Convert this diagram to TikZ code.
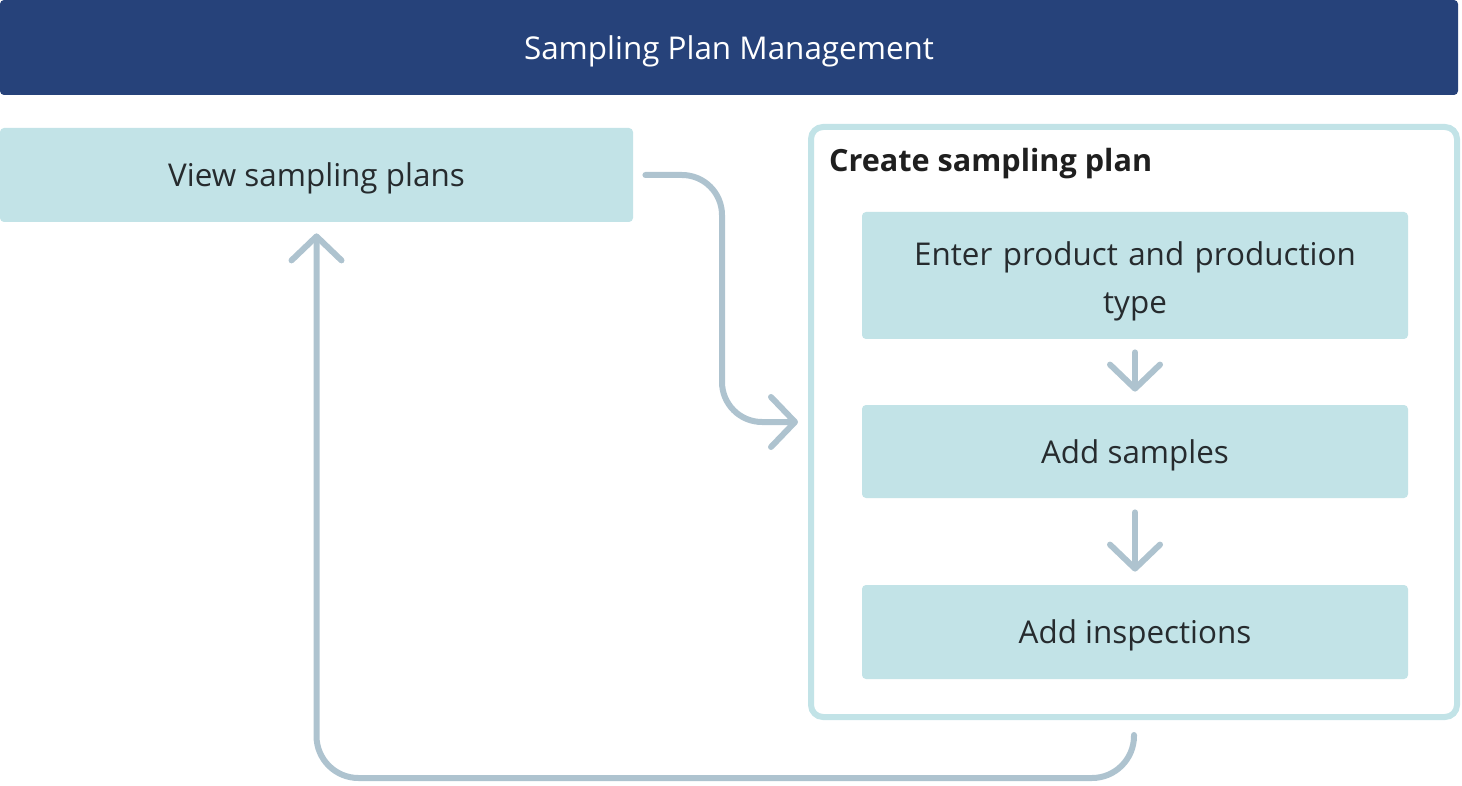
\documentclass[tikz,border=0pt]{standalone}
\usepackage{fontspec}
\setmainfont{Open Sans}
\usepackage{xcolor}
\usepackage{tikz}
\usetikzlibrary{arrows.meta}
\usetikzlibrary{positioning,calc}
\definecolor{headblue}{RGB}{38,66,122}
\definecolor{paleteal}{RGB}{194,227,231}
\definecolor{flowgray}{RGB}{174,195,207}
\definecolor{inkdark}{RGB}{38,43,46}

\begin{document}
\begin{tikzpicture}[x=0.5pt,y=-0.5pt,
    stepbox/.style={fill=paleteal,rounded corners=2pt,text=inkdark,text depth=0pt,
      font=\fontsize{15.7}{24}\selectfont,align=center,inner sep=0pt},
    flow/.style={flowgray,line width=3pt,line cap=round,rounded corners=20pt,
      -{Straight Barb[round,length=12pt,width=25pt]}}]
    \useasboundingbox (0,0) rectangle (1462,786);
    % title bar
    \node[fill=headblue,rounded corners=2pt,minimum width=729pt,minimum height=47.5pt,
      text=white,text depth=0pt,font=\fontsize{15.7}{19}\selectfont] (head) at (729,47.5)
      {Sampling Plan Management};
    \node[stepbox,minimum width=316.5pt,minimum height=47pt] (view) at (316.5,175)
      {View sampling plans};
    % container with the three steps
    \node[draw=paleteal,line width=3pt,fill=white,rounded corners=6pt,
      minimum width=323pt,minimum height=295pt] (plan) at (1134,422) {};
    \node[anchor=west,font=\fontsize{15.3}{18}\selectfont\bfseries,text=black!88] (plantitle)
      at (822,164) {Create sampling plan};
    \node[stepbox,text depth=22pt,minimum width=273pt,minimum height=63.5pt,text width=260pt]
      (enter) at (1135,275.5) {Enter product and production\\type};
    \node[stepbox,minimum width=273pt,minimum height=46.5pt] (samples) at (1135,451.5)
      {Add samples};
    \node[stepbox,minimum width=273pt,minimum height=47pt] (insp) at (1135,632)
      {Add inspections};
    % connectors
    \draw[flow] ([xshift=6pt]view.east) -| ([xshift=-43pt]plan.west)
      -- ([xshift=-5pt]plan.west);
    \draw[flow,shorten <=6.5pt,shorten >=6.5pt] (enter.south) -- (samples);
    \draw[flow,shorten <=7pt,shorten >=6.5pt] (samples) -- (insp);
    \draw[flow,rounded corners=21pt] ([yshift=-7.5pt]plan.south) -- ++(0,43)
      -| ([yshift=-5.5pt]view.south);
\end{tikzpicture}
\end{document}
